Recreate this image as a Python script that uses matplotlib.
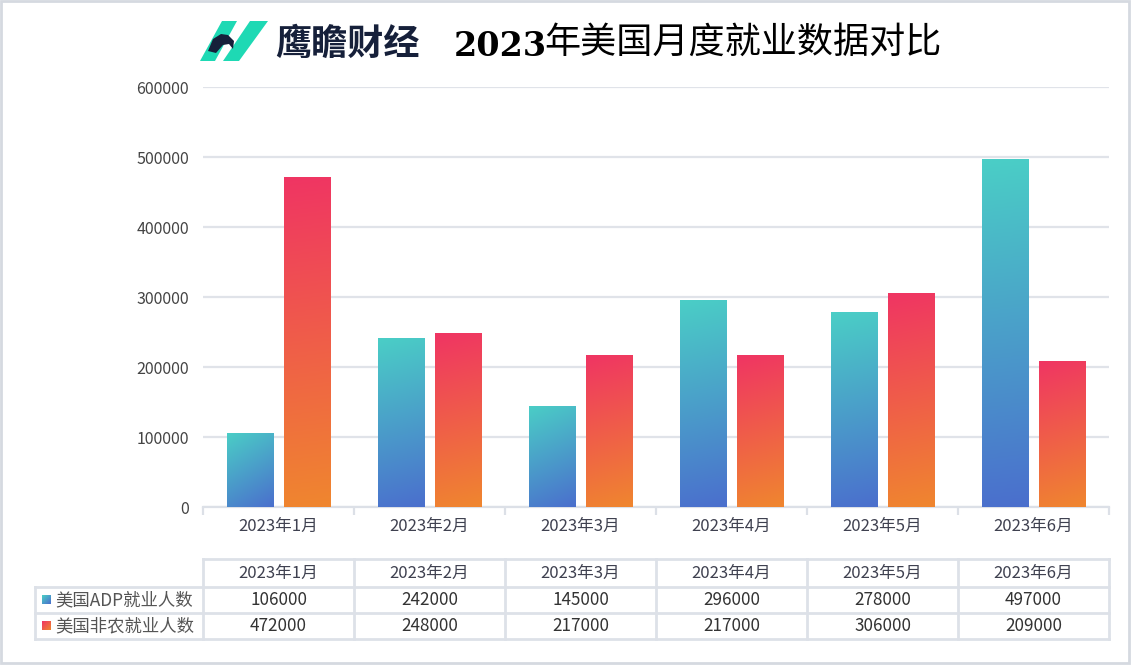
import numpy as np
import matplotlib.pyplot as plt
from matplotlib.colors import LinearSegmentedColormap
from matplotlib.patches import Rectangle, Polygon

plt.rcParams['font.family'] = ['Noto Sans CJK SC', 'DejaVu Sans']

months = ['2023年1月', '2023年2月', '2023年3月', '2023年4月', '2023年5月', '2023年6月']
series_names = ['美国ADP就业人数', '美国非农就业人数']
adp = [106000, 242000, 145000, 296000, 278000, 497000]
nonfarm = [472000, 248000, 217000, 217000, 306000, 209000]

W, H = 1132, 665
fig = plt.figure(figsize=(W / 100, H / 100), dpi=100)

# overlay in pixel coords for border, logo, table
bg = fig.add_axes([0, 0, 1, 1], zorder=0)
bg.set_xlim(0, W)
bg.set_ylim(H, 0)
bg.axis('off')
bg.add_patch(Rectangle((1, 1), W - 4, H - 3, fill=False, ec='#D5D9E0', lw=2))

cm_adp = LinearSegmentedColormap.from_list('adp', ['#4BCEC6', '#4A6FCD'])
cm_nf = LinearSegmentedColormap.from_list('nf', ['#EF3563', '#F0862F'])

n = 80
u = np.linspace(0, 1, n)


def diag_grad(wpx, hpx):
    # gradient along the top-left -> bottom-right diagonal, in pixel space
    return (u[None, :] * wpx ** 2 + u[:, None] * hpx ** 2) / (wpx ** 2 + hpx ** 2)


L, R, T, B = 203, 1109, 87, 507
ymax = 600000
ax = fig.add_axes([L / W, 1 - B / H, (R - L) / W, (B - T) / H], zorder=1)
ax.patch.set_alpha(0)

x = np.arange(len(months))
bw = 0.305
off = 0.188
colw = (R - L) / len(months)
for vals, cm, sgn in [(adp, cm_adp, -1), (nonfarm, cm_nf, 1)]:
    for xi, v in zip(x, vals):
        x0 = xi + sgn * off - bw / 2
        rect = Rectangle((x0, 0), bw, v, fc='none', ec='none')
        ax.add_patch(rect)
        g = diag_grad(bw * colw, v / ymax * (B - T))
        im = ax.imshow(g, cmap=cm, extent=(x0, x0 + bw, 0, v), origin='upper',
                       aspect='auto', zorder=3, interpolation='bilinear')
        im.set_clip_path(rect)

ax.set_xlim(-0.5, len(months) - 0.5)
ax.set_ylim(0, ymax)
ax.set_yticks(np.arange(0, ymax + 1, 100000))
ax.yaxis.grid(True, color='#E0E3E9', lw=1.6)
ax.set_axisbelow(True)
for s in ['top', 'right', 'left']:
    ax.spines[s].set_visible(False)
ax.spines['bottom'].set_color('#DCE0E7')
ax.spines['bottom'].set_linewidth(1.6)
ax.tick_params(axis='y', length=0, pad=10, labelsize=11.5, labelcolor='#444444')
ax.set_xticks(x)
ax.set_xticklabels(months)
ax.tick_params(axis='x', which='major', length=0, pad=8, labelsize=12, labelcolor='#3F4150')
ax.set_xticks(np.arange(-0.5, len(months)), minor=True)
ax.tick_params(axis='x', which='minor', length=6, width=1.6, color='#DCE0E7')

# table
rows_y = [559, 587, 613, 639]
lc = '#DDE1E8'
bg.plot([L, R], [rows_y[0], rows_y[0]], color=lc, lw=2)
for yy in rows_y[1:]:
    bg.plot([35, R], [yy, yy], color=lc, lw=2)
bg.plot([35, 35], [rows_y[1], rows_y[3]], color=lc, lw=2)
for i in range(len(months) + 1):
    xx = L + i * colw
    bg.plot([xx, xx], [rows_y[0], rows_y[3]], color=lc, lw=2)
for i, m in enumerate(months):
    cx = L + (i + 0.5) * colw
    bg.text(cx, (rows_y[0] + rows_y[1]) / 2, m, ha='center', va='center',
            fontsize=12, color='#3F4150')
    bg.text(cx, (rows_y[1] + rows_y[2]) / 2, str(adp[i]), ha='center', va='center',
            fontsize=12.3, color='#333333')
    bg.text(cx, (rows_y[2] + rows_y[3]) / 2, str(nonfarm[i]), ha='center', va='center',
            fontsize=12.3, color='#333333')
sq = np.linspace(0, 1, 16)
sq_grad = (sq[None, :] + sq[:, None]) / 2
for k, (name, cm) in enumerate(zip(series_names, [cm_adp, cm_nf])):
    cy = (rows_y[k + 1] + rows_y[k + 2]) / 2
    bg.imshow(sq_grad, cmap=cm, extent=(42, 51, cy + 4.5, cy - 4.5), aspect='auto', zorder=2)
    bg.text(55, cy, name, ha='left', va='center', fontsize=12.5, color='#555555')
bg.set_xlim(0, W)
bg.set_ylim(H, 0)

# logo
teal = '#1ED9B4'
bg.add_patch(Polygon([(200, 61), (215, 61), (237, 21), (222, 21)], closed=True, fc=teal, ec='none'))
bg.add_patch(Polygon([(223, 61), (239, 61), (268, 21), (250, 21)], closed=True, fc=teal, ec='none'))
bg.add_patch(Polygon([(208, 51), (213, 39), (221, 34), (228, 35), (234, 41), (233, 49),
                      (229, 44), (223, 45), (216, 53)], closed=True, fc='#16203A', ec='none'))
bg.text(275, 44, '鹰瞻财经', ha='left', va='center', fontsize=26, fontweight='bold', color='#16203A')
bg.text(454, 46, '2023', ha='left', va='center', fontsize=24, fontweight='heavy',
        family='DejaVu Serif', color='black')
bg.text(544, 43, '年美国月度就业数据对比', ha='left', va='center', fontsize=26, color='black')

fig.savefig('out.png', dpi=100)
